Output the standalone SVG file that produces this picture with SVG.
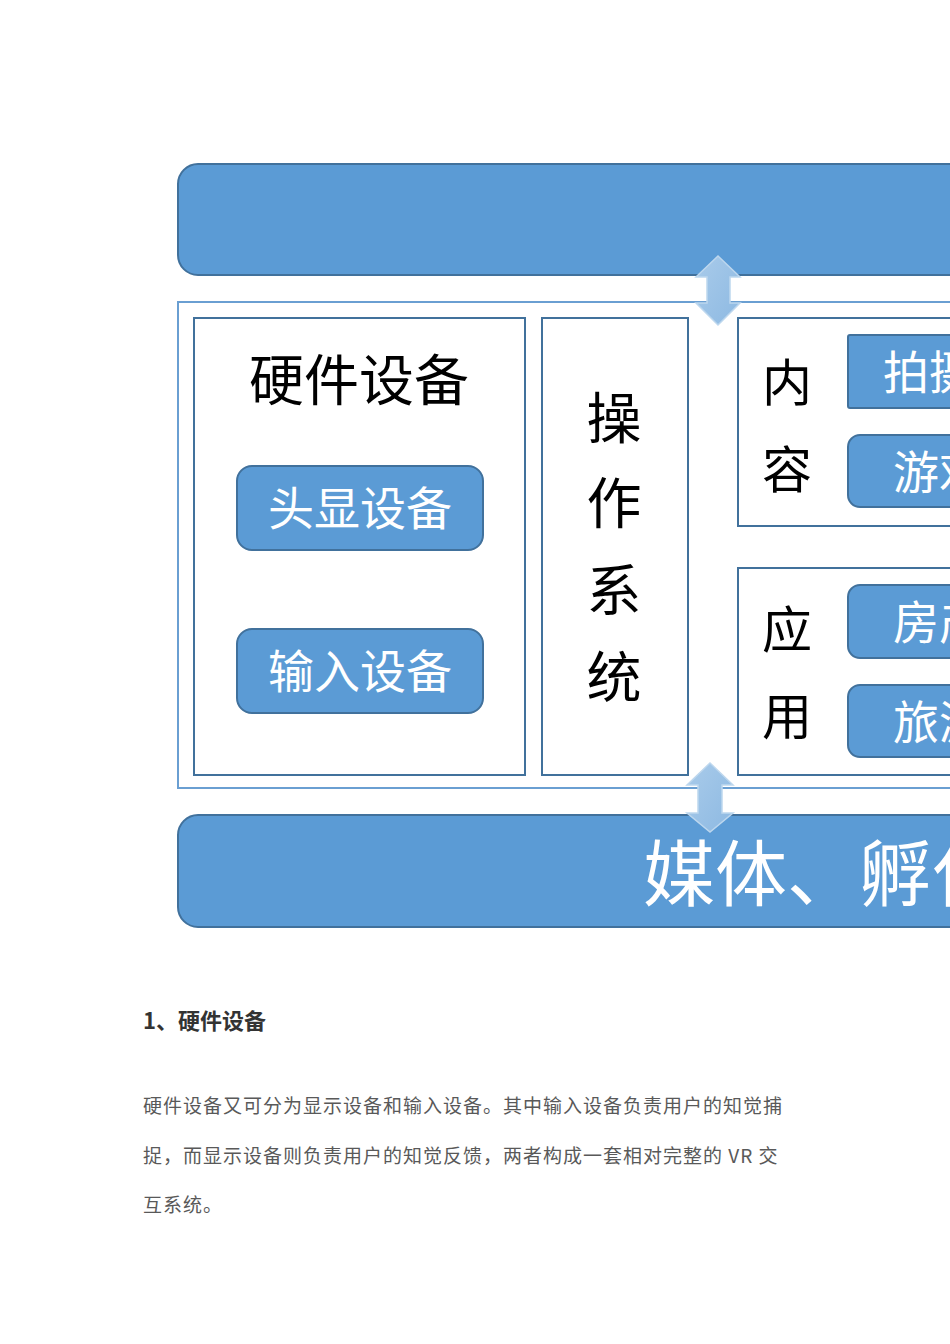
<svg xmlns="http://www.w3.org/2000/svg" width="950" height="1344" viewBox="0 0 950 1344">
<defs>
<style>
.bar{fill:#5b9bd5;stroke:#41719c;stroke-width:2}
.cont{fill:#fff;stroke:#6a9fd2;stroke-width:2}
.box{fill:#fff;stroke:#41719c;stroke-width:2}
.item{fill:#5b9bd5;stroke:#41719c;stroke-width:2}
.arrow{fill:#9dc3e6;stroke:#bdd7ee;stroke-width:1.5}
.cjk{font-family:"Noto Sans CJK SC","Noto Sans",sans-serif}
.blk{fill:#000;text-anchor:middle;dominant-baseline:central}
.wht{fill:#fff;dominant-baseline:central}
.para{fill:#595959;font-size:19px;letter-spacing:1px}
</style>
<linearGradient id="ag" x1="0" y1="0" x2="1" y2="1">
<stop offset="0" stop-color="#a9cbea"/>
<stop offset="1" stop-color="#8db9e2"/>
</linearGradient>
</defs>
<rect width="950" height="1344" fill="#fff"/>

<g id="top-bar">
<rect class="bar" x="178" y="164" width="820" height="111" rx="20"/>
</g>

<g id="container">
<rect class="cont" x="178" y="302" width="820" height="486"/>
</g>

<g id="hardware">
<rect class="box" x="194" y="318" width="331" height="457"/>
<text class="cjk blk" x="359" y="376" font-size="55">硬件设备</text>
</g>
<g id="hmd">
<rect class="item" x="237" y="466" width="246" height="84" rx="15"/>
<text class="cjk wht" x="360" y="505" font-size="46" text-anchor="middle">头显设备</text>
</g>
<g id="input">
<rect class="item" x="237" y="629" width="246" height="84" rx="15"/>
<text class="cjk wht" x="360" y="668" font-size="46" text-anchor="middle">输入设备</text>
</g>

<g id="os">
<rect class="box" x="542" y="318" width="146" height="457"/>
<text class="cjk blk" x="614" y="414" font-size="55">操</text>
<text class="cjk blk" x="614" y="499" font-size="55">作</text>
<text class="cjk blk" x="614" y="586" font-size="55">系</text>
<text class="cjk blk" x="614" y="673" font-size="55">统</text>
</g>

<g id="content">
<rect class="box" x="738" y="318" width="260" height="208"/>
<text class="cjk blk" x="787" y="379" font-size="50">内</text>
<text class="cjk blk" x="787" y="466" font-size="50">容</text>
</g>
<g id="shoot">
<rect class="item" x="848" y="335" width="150" height="73" rx="2"/>
<text class="cjk wht" x="883" y="369" font-size="46">拍摄</text>
</g>
<g id="game">
<rect class="item" x="848" y="435" width="150" height="72" rx="12"/>
<text class="cjk wht" x="893" y="469" font-size="46">游戏</text>
</g>

<g id="application">
<rect class="box" x="738" y="568" width="260" height="207"/>
<text class="cjk blk" x="787" y="626" font-size="50">应</text>
<text class="cjk blk" x="787" y="713" font-size="50">用</text>
</g>
<g id="realestate">
<rect class="item" x="848" y="585" width="150" height="73" rx="12"/>
<text class="cjk wht" x="893" y="619" font-size="46">房产</text>
</g>
<g id="travel">
<rect class="item" x="848" y="685" width="150" height="72" rx="12"/>
<text class="cjk wht" x="893" y="719" font-size="46">旅游</text>
</g>

<g id="bottom-bar">
<rect class="bar" x="178" y="815" width="820" height="112" rx="20"/>
<text class="cjk wht" x="643" y="868" font-size="72">媒体、孵化</text>
</g>

<g id="connectors">
<path class="arrow" style="fill:url(#ag)" d="M718,256 L740,277 L730,277 L730,303 L740,303 L718,325 L696,303 L707,303 L707,277 L696,277 Z"/>
<path class="arrow" style="fill:url(#ag)" d="M710,763 L733,785 L722,785 L722,813 L733,813 L710,832 L687,813 L698,813 L698,785 L687,785 Z"/>
</g>

<g id="article">
<text class="cjk" x="143" y="1029" font-size="22" font-weight="bold" fill="#333">1、硬件设备</text>
<text class="cjk para" x="143" y="1113">硬件设备又可分为显示设备和输入设备。其中输入设备负责用户的知觉捕</text>
<text class="cjk para" x="143" y="1163">捉，而显示设备则负责用户的知觉反馈，两者构成一套相对完整的 VR 交</text>
<text class="cjk para" x="143" y="1212">互系统。</text>
</g>
</svg>
